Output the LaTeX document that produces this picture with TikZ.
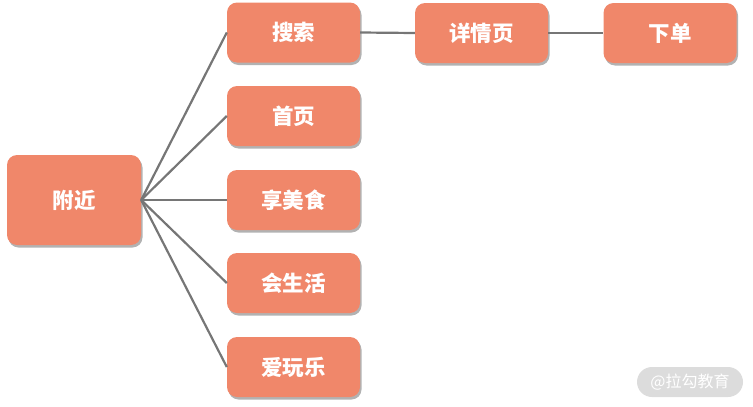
\documentclass[tikz,border=0pt]{standalone}
\usepackage{fontspec}
\usepackage{tikz}
\usetikzlibrary{shadows}
\newfontfamily\cjk{Noto Sans CJK SC}
\definecolor{boxfill}{HTML}{F0876A}
\definecolor{linkgray}{HTML}{767676}
\definecolor{markgray}{HTML}{DCDCDC}

\tikzset{
  pagebox/.style={rounded corners=10pt, fill=boxfill, minimum width=133pt, minimum height=60pt,
    inner sep=0pt, text=white, font=\cjk\bfseries\fontsize{21.5}{26}\selectfont,
    drop shadow={shadow xshift=1.5pt, shadow yshift=-2.5pt, fill=black, opacity=0.3}},
  link/.style={linkgray, line width=2.2pt}
}

\begin{document}
\begin{tikzpicture}[x=1pt, y=-1pt]
\useasboundingbox (0, 0) rectangle (753, 407);

\node [pagebox, minimum width=134pt, minimum height=90pt] (near) at (74, 200) {附近};
\node [pagebox] (search) at (293.5, 32.5) {搜索};
\node [pagebox] (home) at (293.5, 116) {首页};
\node [pagebox] (food) at (293.5, 200) {享美食};
\node [pagebox] (life) at (293.5, 283) {会生活};
\node [pagebox] (fun) at (293.5, 367) {爱玩乐};
\node [pagebox] (detail) at (481.5, 33) {详情页};
\node [pagebox] (order) at (670, 33) {下单};

\draw [link] (near.east) -- (search.west);
\draw [link] (near.east) -- (home.west);
\draw [link] (near.east) -- (food.west);
\draw [link] (near.east) -- (life.west);
\draw [link] (near.east) -- (fun.west);
\draw [link] (search.east) -- (detail.west);
\draw [link] (detail.east) -- (order.west);

\node [rounded corners=15pt, fill=markgray, minimum width=106pt, minimum height=30pt, inner sep=0pt,
  text=white, font=\cjk\fontsize{16}{18}\selectfont] (mark) at (690, 382) {@拉勾教育};

\end{tikzpicture}
\end{document}
